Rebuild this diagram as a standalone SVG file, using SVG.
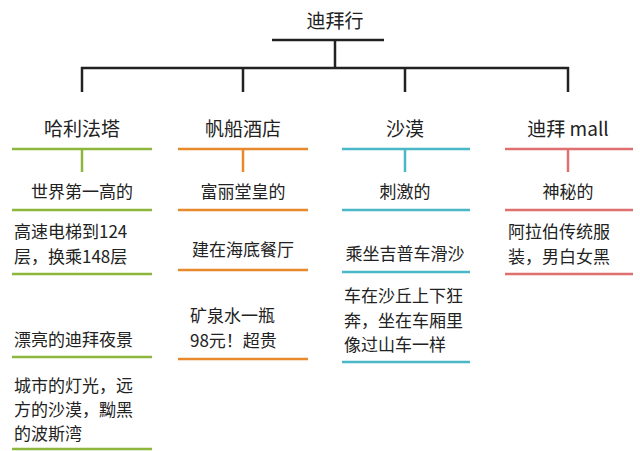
<svg xmlns="http://www.w3.org/2000/svg" width="640" height="451" viewBox="0 0 640 451">
<style>
text{font-family:"Noto Sans CJK SC","Liberation Sans",sans-serif;font-size:17px;fill:#222}
.c{text-anchor:middle}
.h{font-size:19px}
line{stroke-width:2.5}
.k{stroke:#222}.g{stroke:#8db63c}.o{stroke:#e8892b}.t{stroke:#4bb8c8}.p{stroke:#e07070}
</style>
<rect width="640" height="451" fill="#fff"/>
<g id="connectors">
<line class="k" x1="272" y1="40" x2="384" y2="40"/>
<line class="k" x1="335" y1="40" x2="335" y2="68"/>
<line class="k" x1="81" y1="68" x2="569" y2="68"/>
<line class="k" x1="82" y1="67" x2="82" y2="92"/>
<line class="k" x1="243" y1="67" x2="243" y2="92"/>
<line class="k" x1="405" y1="67" x2="405" y2="92"/>
<line class="k" x1="568" y1="67" x2="568" y2="92"/>
<line class="g" x1="82" y1="149" x2="82" y2="172"/>
<line class="o" x1="243" y1="149" x2="243" y2="172"/>
<line class="t" x1="405" y1="149" x2="405" y2="172"/>
<line class="p" x1="568" y1="149" x2="568" y2="172"/>
</g>
<g id="root"><text class="c h" x="335" y="28">迪拜行</text></g>
<g id="col1">
<text class="c h" x="82" y="136">哈利法塔</text><line class="g" x1="12" y1="149" x2="152" y2="149"/>
<text class="c" x="82" y="198">世界第一高的</text><line class="g" x1="12" y1="210" x2="152" y2="210"/>
<text x="14" y="238">高速电梯到124</text><text x="14" y="263">层，换乘148层</text><line class="g" x1="12" y1="274" x2="152" y2="274"/>
<text x="14" y="346">漂亮的迪拜夜景</text><line class="g" x1="12" y1="357" x2="152" y2="357"/>
<text x="14" y="392">城市的灯光，远</text><text x="14" y="416">方的沙漠，黝黑</text><text x="14" y="440">的波斯湾</text><line class="g" x1="12" y1="449" x2="152" y2="449"/>
</g>
<g id="col2">
<text class="c h" x="243" y="136">帆船酒店</text><line class="o" x1="178" y1="149" x2="308" y2="149"/>
<text class="c" x="243" y="198">富丽堂皇的</text><line class="o" x1="178" y1="210" x2="308" y2="210"/>
<text class="c" x="243" y="256">建在海底餐厅</text><line class="o" x1="178" y1="270" x2="308" y2="270"/>
<text x="190" y="322">矿泉水一瓶</text><text x="190" y="347">98元！超贵</text><line class="o" x1="178" y1="359" x2="308" y2="359"/>
</g>
<g id="col3">
<text class="c h" x="405" y="136">沙漠</text><line class="t" x1="342" y1="149" x2="470" y2="149"/>
<text class="c" x="405" y="198">刺激的</text><line class="t" x1="342" y1="210" x2="470" y2="210"/>
<text class="c" x="405" y="260">乘坐吉普车滑沙</text><line class="t" x1="342" y1="272" x2="470" y2="272"/>
<text x="344" y="302">车在沙丘上下狂</text><text x="344" y="327">奔，坐在车厢里</text><text x="344" y="351">像过山车一样</text><line class="t" x1="342" y1="362" x2="470" y2="362"/>
</g>
<g id="col4">
<text class="c h" x="568" y="136">迪拜 mall</text><line class="p" x1="505" y1="149" x2="633" y2="149"/>
<text class="c" x="568" y="198">神秘的</text><line class="p" x1="505" y1="210" x2="633" y2="210"/>
<text x="508" y="238">阿拉伯传统服</text><text x="508" y="263">装，男白女黑</text><line class="p" x1="505" y1="274" x2="633" y2="274"/>
</g>
</svg>
